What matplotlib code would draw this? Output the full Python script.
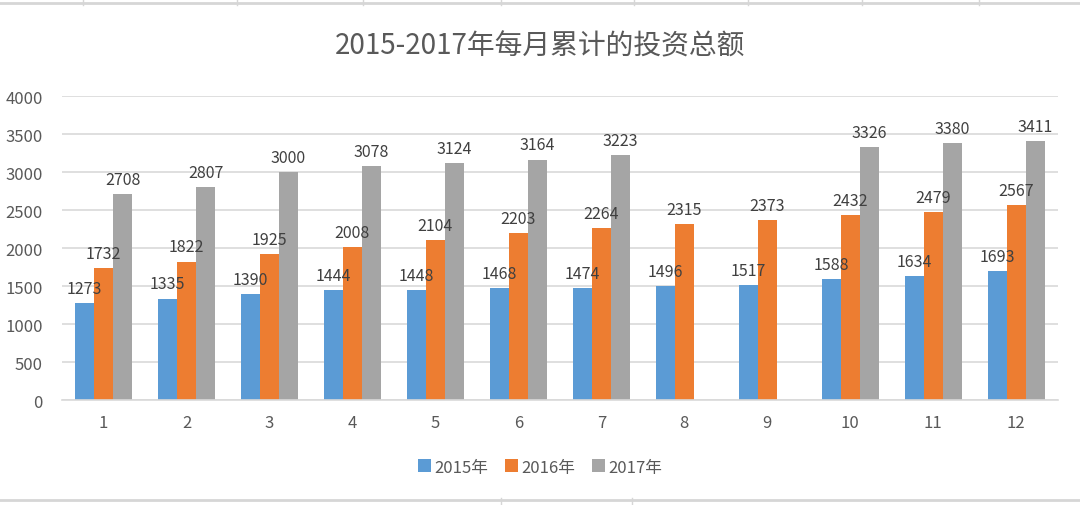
import matplotlib
matplotlib.use("Agg")
import matplotlib.pyplot as plt
import numpy as np
from matplotlib.lines import Line2D

plt.rcParams['font.family'] = ['Noto Sans CJK SC', 'DejaVu Sans']

months = [str(m) for m in range(1, 13)]
v2015 = [1273, 1335, 1390, 1444, 1448, 1468, 1474, 1496, 1517, 1588, 1634, 1693]
v2016 = [1732, 1822, 1925, 2008, 2104, 2203, 2264, 2315, 2373, 2432, 2479, 2567]
v2017 = [2708, 2807, 3000, 3078, 3124, 3164, 3223, np.nan, np.nan, 3326, 3380, 3411]
series = [("2015年", v2015, "#5B9BD5"),
          ("2016年", v2016, "#ED7D31"),
          ("2017年", v2017, "#A5A5A5")]

TXT = "#595959"
GRID = "#D9D9D9"

fig = plt.figure(figsize=(10.8, 5.06), dpi=100)
ax = fig.add_axes([0.0574, 0.2075, 0.9220, 0.6007])

x = np.arange(len(months))
w = 0.23
for i, (name, vals, col) in enumerate(series):
    pos = x + (i - 1) * w
    ax.bar(pos, vals, width=w, color=col, label=name, zorder=2)
    for xp, v in zip(pos, vals):
        if np.isnan(v):
            continue
        ax.text(xp, v + 80, f"{int(v)}", ha="center", va="bottom",
                fontsize=11.5, color="#404040", zorder=3)

ax.set_xlim(-0.5, 11.5)
ax.set_ylim(0, 4000)
ax.set_yticks(range(0, 4001, 500))
ax.set_xticks(x)
ax.set_xticklabels(months)
ax.yaxis.grid(True, color=GRID, linewidth=1.2, zorder=0)
ax.set_axisbelow(True)
for s in ["top", "right", "left"]:
    ax.spines[s].set_visible(False)
ax.spines["bottom"].set_color(GRID)
ax.spines["bottom"].set_linewidth(1.2)
ax.tick_params(axis="both", length=0, colors=TXT, labelsize=12)
ax.tick_params(axis="x", pad=10)
ax.tick_params(axis="y", pad=14)

fig.text(0.5, 0.909, "2015-2017年每月累计的投资总额", ha="center", va="center",
         fontsize=20, color=TXT)

fig.legend(loc="center", bbox_to_anchor=(0.5, 0.075), ncol=3, frameon=False,
           fontsize=12, labelcolor=TXT, handlelength=0.8, handleheight=0.8,
           handletextpad=0.2, columnspacing=1.0)

# spreadsheet cell borders visible around the chart
H, W = 506.0, 1080.0
for yy in (4, 501):
    fig.add_artist(Line2D([0, 1], [1 - yy / H] * 2, color="#D6D6D6", linewidth=2))
for xx in (83, 237, 363, 501, 634, 748, 862, 979):
    fig.add_artist(Line2D([xx / W] * 2, [1 - 0 / H, 1 - 6 / H], color="#D6D6D6", linewidth=1))
for xx in (501, 632):
    fig.add_artist(Line2D([xx / W] * 2, [1 - 499 / H, 0], color="#D6D6D6", linewidth=1))

fig.savefig("out.png", dpi=100)
